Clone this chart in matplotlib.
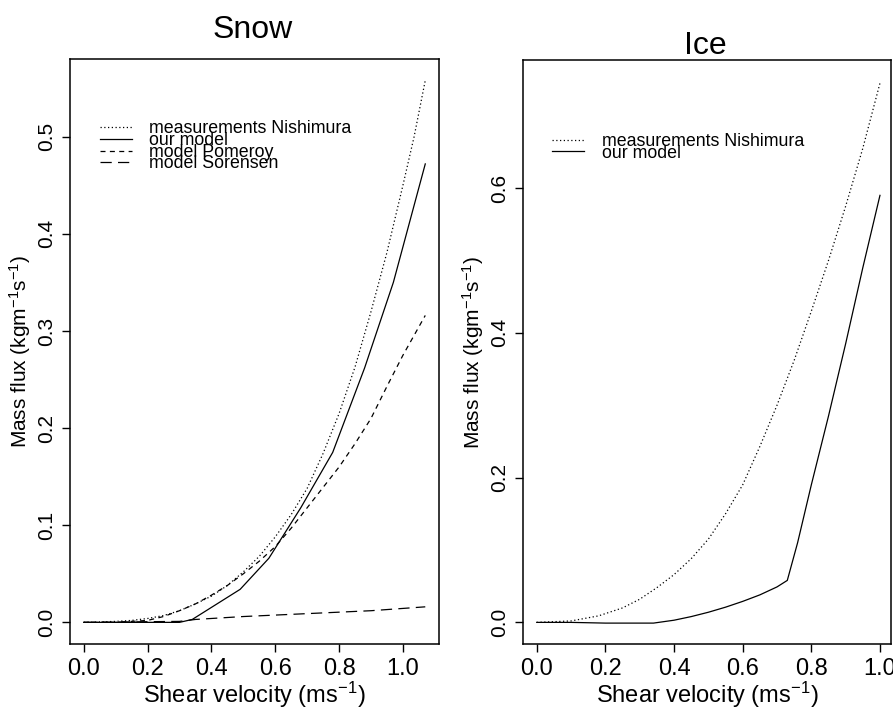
import matplotlib
matplotlib.use("Agg")
import matplotlib.pyplot as plt

plt.rcParams['font.family'] = ['Liberation Sans', 'DejaVu Sans']
plt.rcParams['mathtext.default'] = 'regular'

# Snow panel
snow_nish_x = [0, 0.05, 0.1, 0.15, 0.2, 0.25, 0.3, 0.35, 0.4, 0.45, 0.5, 0.55, 0.6, 0.65,
               0.7, 0.75, 0.8, 0.85, 0.9, 0.95, 1.0, 1.035, 1.07]
snow_nish_y = [0, 0.0005, 0.001, 0.002, 0.004, 0.007, 0.012, 0.019, 0.027, 0.038, 0.052, 0.068,
               0.088, 0.111, 0.138, 0.174, 0.215, 0.263, 0.32, 0.381, 0.45, 0.5, 0.558]
snow_ours_x = [0, 0.1, 0.2, 0.3, 0.34, 0.49, 0.58, 0.68, 0.78, 0.88, 0.97, 1.07]
snow_ours_y = [0, 0, 0, 0, 0.003, 0.034, 0.066, 0.118, 0.175, 0.262, 0.35, 0.472]
snow_pom_x = [0, 0.1, 0.2, 0.25, 0.3, 0.35, 0.4, 0.45, 0.5, 0.55, 0.6, 0.65, 0.7, 0.75,
              0.8, 0.85, 0.9, 0.95, 1.0, 1.07]
snow_pom_y = [0, 0, 0.002, 0.006, 0.012, 0.019, 0.028, 0.038, 0.05, 0.063, 0.078, 0.097,
              0.118, 0.139, 0.16, 0.184, 0.21, 0.243, 0.275, 0.316]
snow_sor_x = [0, 0.3, 0.35, 0.5, 0.7, 0.9, 1.07]
snow_sor_y = [0, 0.001, 0.003, 0.006, 0.009, 0.012, 0.016]

# Ice panel
ice_nish_x = [0, 0.1, 0.18, 0.25, 0.3, 0.35, 0.4, 0.45, 0.5, 0.55, 0.6, 0.65, 0.7, 0.75,
              0.8, 0.85, 0.9, 0.95, 1.0]
ice_nish_y = [0, 0.002, 0.009, 0.02, 0.032, 0.048, 0.066, 0.088, 0.115, 0.15, 0.19, 0.243,
              0.3, 0.362, 0.43, 0.5, 0.575, 0.655, 0.745]
ice_ours_x = [0, 0.1, 0.2, 0.34, 0.4, 0.45, 0.5, 0.55, 0.6, 0.65, 0.7, 0.73, 0.76, 0.8,
              0.85, 0.9, 0.95, 1.0]
ice_ours_y = [0, 0, -0.001, -0.001, 0.003, 0.008, 0.014, 0.021, 0.029, 0.038, 0.049, 0.058,
              0.11, 0.19, 0.285, 0.385, 0.49, 0.59]

x_ticks = [0.0, 0.2, 0.4, 0.6, 0.8, 1.0]
snow_yticks = [0.0, 0.1, 0.2, 0.3, 0.4, 0.5]
ice_yticks = [0.0, 0.2, 0.4, 0.6]

dotted = (0, (1, 2))
short_dash = (0, (4, 3.5))
long_dash = (0, (9, 5))

fig = plt.figure(figsize=(8.93, 7.11), dpi=100)
ax1 = fig.add_axes([0.0784, 0.0942, 0.4132, 0.8228])
ax2 = fig.add_axes([0.5857, 0.0942, 0.4120, 0.8214])

lw = 0.9
ax1.plot(snow_nish_x, snow_nish_y, color='black', lw=lw, ls=dotted, label='measurements Nishimura')
ax1.plot(snow_ours_x, snow_ours_y, color='black', lw=lw, ls='-', label='our model')
ax1.plot(snow_pom_x, snow_pom_y, color='black', lw=lw, ls=short_dash, label='model Pomeroy')
ax1.plot(snow_sor_x, snow_sor_y, color='black', lw=lw, ls=long_dash, label='model Sorensen')
ax1.set_xlim(-0.043, 1.113)
ax1.set_ylim(-0.0223, 0.580)
ax1.set_yticks(snow_yticks)

ax2.plot(ice_nish_x, ice_nish_y, color='black', lw=lw, ls=dotted, label='measurements Nishimura')
ax2.plot(ice_ours_x, ice_ours_y, color='black', lw=lw, ls='-', label='our model')
ax2.set_xlim(-0.04, 1.032)
ax2.set_ylim(-0.0299, 0.777)
ax2.set_yticks(ice_yticks)

for ax in (ax1, ax2):
    ax.set_xticks(x_ticks)
    ax.set_xticklabels(['%.1f' % v for v in x_ticks], fontsize=17)
    ax.set_yticklabels(['%.1f' % v for v in ax.get_yticks()], rotation=90, va='center', fontsize=15)
    ax.tick_params(direction='out', length=6, width=1, pad=4)
    for s in ax.spines.values():
        s.set_linewidth(1.1)
    ax.set_xlabel('Shear velocity (ms$^{-1}$)', fontsize=17, labelpad=0)
    ax.set_ylabel('Mass flux (kgm$^{-1}$s$^{-1}$)', fontsize=15, labelpad=3)
    ax.legend(loc='upper left', frameon=False, fontsize=12.8, handlelength=1.8,
              handletextpad=1.0, labelspacing=-0.3, borderaxespad=0, borderpad=0,
              bbox_to_anchor=(0.08, 0.895) if ax is ax1 else (0.08, 0.875))

fig.text(0.283, 0.958, 'Snow', fontsize=23, ha='center', va='center')
fig.text(0.790, 0.935, 'Ice', fontsize=23, ha='center', va='center')

fig.savefig('out.png', dpi=100)
